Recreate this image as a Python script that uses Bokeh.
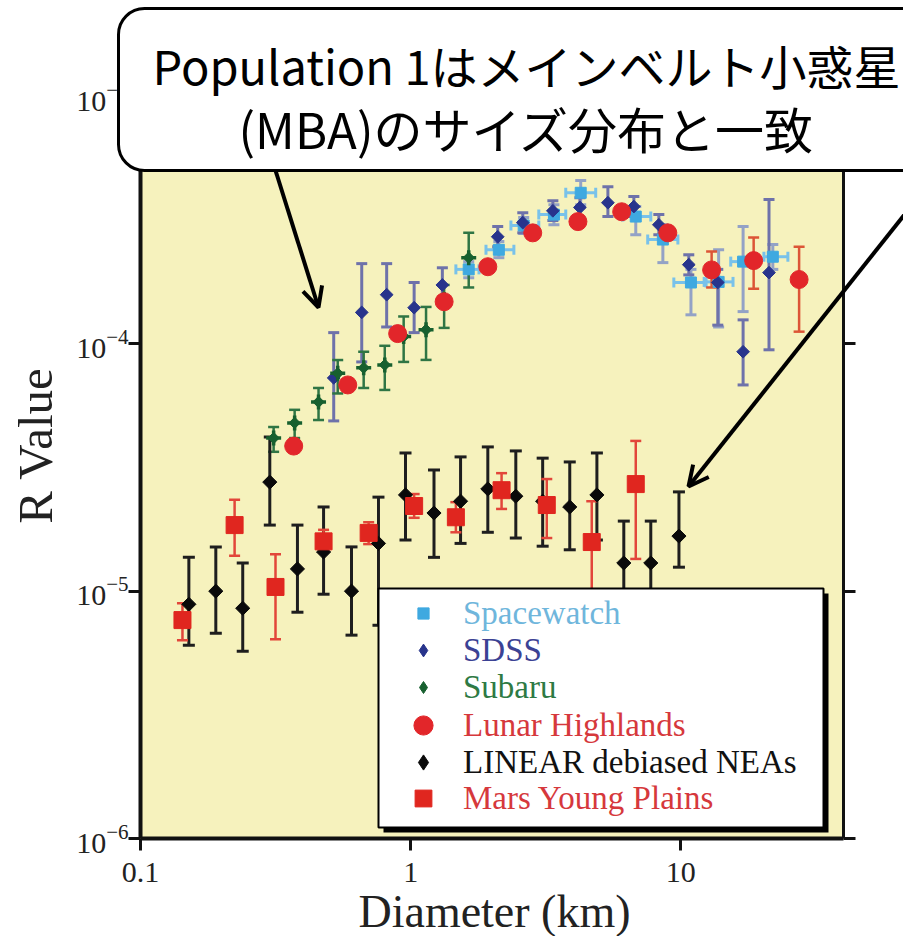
import math
import numpy as np
from bokeh.plotting import figure
from bokeh.models import (ColumnDataSource, Whisker, TeeHead, Legend, LegendItem,
                          BoxAnnotation, Label, Arrow, OpenHead, LogAxis)
from bokeh.embed import file_html
from bokeh.resources import INLINE

# ---------------- data: R values vs diameter (km) ----------------
spacewatch_d = [1.64, 2.12, 2.62, 3.39, 4.26, 6.81, 8.58, 10.9, 13.8, 17.0, 21.9]
spacewatch_d_lo = [1.47, 1.90, 2.35, 2.98, 3.75, 6.10, 7.54, 9.42, 12.2, 15.3, 20.3]
spacewatch_d_hi = [1.79, 2.41, 2.98, 3.75, 4.84, 7.74, 9.75, 12.4, 15.6, 18.5, 24.9]
spacewatch_r = [2.00e-4, 2.40e-4, 3.01e-4, 3.33e-4, 4.08e-4, 3.27e-4, 2.64e-4, 1.77e-4, 1.78e-4, 2.15e-4, 2.25e-4]
spacewatch_r_hi = [2.15e-4, 2.59e-4, 3.24e-4, 3.65e-4, 4.57e-4, 3.59e-4, 3.03e-4, 2.00e-4, 2.40e-4, 2.98e-4, 2.52e-4]
spacewatch_r_lo = [1.85e-4, 2.23e-4, 2.79e-4, 3.03e-4, 3.65e-4, 2.76e-4, 2.13e-4, 1.31e-4, 1.17e-4, 1.35e-4, 2.00e-4]

sdss_d = [0.519, 0.659, 0.815, 1.03, 1.31, 2.10, 2.60, 3.36, 4.23, 5.37, 6.70, 8.29, 10.7, 13.7, 17.0, 21.2]
sdss_r = [7.28e-5, 1.34e-4, 1.58e-4, 1.40e-4, 1.73e-4, 2.71e-4, 3.09e-4, 3.45e-4, 3.56e-4, 3.72e-4, 3.59e-4, 3.03e-4, 2.09e-4, 1.77e-4, 9.29e-5, 1.94e-4]
sdss_hi = [1.11e-4, 2.11e-4, 2.11e-4, 1.77e-4, 2.03e-4, 2.98e-4, 3.39e-4, 3.79e-4, 3.90e-4, 4.32e-4, 3.94e-4, 3.33e-4, 2.29e-4, 2.00e-4, 1.25e-4, 3.83e-4]
sdss_lo = [4.88e-5, 8.45e-5, 1.17e-4, 1.11e-4, 1.51e-4, 2.47e-4, 2.81e-4, 3.15e-4, 3.24e-4, 3.27e-4, 3.27e-4, 2.76e-4, 1.90e-4, 1.19e-4, 6.82e-5, 9.46e-5]

subaru_d = [0.311, 0.372, 0.456, 0.537, 0.670, 0.802, 0.942, 1.14, 1.33, 1.64]
subaru_r = [4.16e-5, 4.79e-5, 5.82e-5, 7.6e-5, 8.0e-5, 8.22e-5, 1.07e-4, 1.14e-4, 1.51e-4, 2.23e-4]
subaru_hi = [4.61e-5, 5.41e-5, 6.63e-5, 8.6e-5, 9.29e-5, 9.82e-5, 1.29e-4, 1.41e-4, 1.73e-4, 2.81e-4]
subaru_lo = [3.66e-5, 4.16e-5, 4.92e-5, 6.3e-5, 6.63e-5, 6.51e-5, 8.45e-5, 8.61e-5, 1.16e-4, 1.69e-4]

lunar_d = [0.369, 0.585, 0.895, 1.33, 1.93, 2.83, 4.16, 6.04, 8.95, 13.0, 18.6, 27.4]
lunar_r = [3.86e-5, 6.82e-5, 1.10e-4, 1.48e-4, 2.05e-4, 2.81e-4, 3.12e-4, 3.42e-4, 2.81e-4, 1.99e-4, 2.17e-4, 1.82e-4]
lunar_hi = [4.1e-5, 7.2e-5, 1.16e-4, 1.56e-4, 2.16e-4, 2.96e-4, 3.3e-4, 3.6e-4, 2.96e-4, 2.36e-4, 2.69e-4, 2.47e-4]
lunar_lo = [3.65e-5, 6.45e-5, 1.04e-4, 1.40e-4, 1.94e-4, 2.66e-4, 2.95e-4, 3.24e-4, 2.66e-4, 1.69e-4, 1.67e-4, 1.12e-4]

linear_d = [0.151, 0.190, 0.239, 0.301, 0.381, 0.476, 0.604, 0.760, 0.957, 1.22, 1.53, 1.93, 2.45, 3.08, 3.88, 4.89, 6.15, 7.74, 9.84]
linear_r = [8.85e-6, 1.0e-5, 8.53e-6, 2.76e-5, 1.23e-5, 1.44e-5, 1.0e-5, 1.56e-5, 2.45e-5, 2.07e-5, 2.31e-5, 2.59e-5, 2.42e-5, 2.31e-5, 2.19e-5, 2.45e-5, 1.30e-5, 1.30e-5, 1.67e-5]
linear_hi = [1.37e-5, 1.51e-5, 1.30e-5, 4.20e-5, 1.85e-5, 2.19e-5, 1.51e-5, 2.40e-5, 3.62e-5, 3.09e-5, 3.49e-5, 3.83e-5, 3.69e-5, 3.45e-5, 3.33e-5, 3.62e-5, 1.92e-5, 1.92e-5, 2.52e-5]
linear_lo = [6.04e-6, 6.76e-6, 5.71e-6, 1.85e-5, 8.22e-6, 9.72e-6, 6.64e-6, 7.28e-6, 1.61e-5, 1.37e-5, 1.56e-5, 1.73e-5, 1.64e-5, 1.52e-5, 1.47e-5, 1.61e-5, 8.77e-6, 8.77e-6, 1.25e-5]

mars_d = [0.143, 0.223, 0.316, 0.476, 0.699, 1.03, 1.47, 2.17, 3.19, 4.68, 6.81]
mars_r = [7.64e-6, 1.85e-5, 1.04e-5, 1.59e-5, 1.72e-5, 2.21e-5, 1.99e-5, 2.56e-5, 2.23e-5, 1.58e-5, 2.71e-5]
mars_hi = [8.94e-6, 2.34e-5, 1.41e-5, 1.77e-5, 1.90e-5, 2.47e-5, 2.29e-5, 3.00e-5, 2.84e-5, 2.31e-5, 4.05e-5]
mars_lo = [6.33e-6, 1.39e-5, 6.39e-6, 1.44e-5, 1.55e-5, 1.98e-5, 1.73e-5, 2.15e-5, 1.64e-5, 9.0e-6, 1.35e-5]

x_ticks = [0.1, 1, 10]
x_tick_labels = ["0.1", "1", "10"]
y_ticks = [1e-6, 1e-5, 1e-4, 1e-3]
X_MIN, X_MAX = 0.1, 40.0
Y_MIN, Y_MAX = 1e-6, 1e-3

# ---------------- layout (canvas pixels) ----------------
W, H = 903, 936
FL, FR, FT, FB = 140, 843, 96, 838      # edges of the axes box
SERIF = "Liberation Serif"

# the plotting frame spans the whole canvas; the axes box sits inside it
kx = (math.log10(X_MAX) - math.log10(X_MIN)) / (FR - FL)
ky = (math.log10(Y_MAX) - math.log10(Y_MIN)) / (FB - FT)
x_range = (10 ** (math.log10(X_MIN) - FL * kx), 10 ** (math.log10(X_MAX) + (W - FR) * kx))
y_range = (10 ** (math.log10(Y_MIN) - (H - FB) * ky), 10 ** (math.log10(Y_MAX) + FT * ky))

p = figure(width=W, height=H, x_axis_type="log", y_axis_type="log",
           x_range=x_range, y_range=y_range,
           output_backend="svg", toolbar_location=None,
           min_border_left=0, min_border_right=0, min_border_top=0, min_border_bottom=0)
p.background_fill_color = "white"
p.border_fill_color = "white"
p.outline_line_color = None
p.grid.visible = False

# yellow axes box
p.add_layout(BoxAnnotation(left=X_MIN, right=X_MAX, bottom=Y_MIN, top=Y_MAX, level="image",
                           fill_color="#f6f2bd", fill_alpha=1, line_alpha=0))

xa = p.below[0]
ya = p.left[0]
xa.ticker = x_ticks
xa.major_label_overrides = dict(zip(x_ticks, x_tick_labels))
xa.fixed_location = Y_MIN
xa.bounds = (X_MIN, X_MAX)
ya.ticker = y_ticks
ya.fixed_location = X_MIN
ya.bounds = (Y_MIN, Y_MAX)
for ax in (xa, ya):
    ax.axis_line_width = 4
    ax.axis_line_color = "#111111"
    ax.major_tick_out = 12
    ax.major_tick_in = 0
    ax.major_tick_line_width = 3
    ax.major_tick_line_color = "#111111"
    ax.minor_tick_line_color = None
    ax.major_label_text_font = SERIF
    ax.major_label_text_color = "#222222"
xa.major_label_text_font_size = "30px"
xa.major_label_standoff = 12
ya.major_label_text_font_size = "30px"
ya.major_label_standoff = 0

# mirrored axes on the right and top: line and ticks only
for place, ticks, loc, bnds in (("right", y_ticks, X_MAX, (Y_MIN, Y_MAX)),
                                ("above", x_ticks, Y_MAX, (X_MIN, X_MAX))):
    ax = LogAxis(ticker=ticks, fixed_location=loc, bounds=bnds,
                 axis_line_width=3, axis_line_color="#111111",
                 major_tick_out=12, major_tick_in=0, major_tick_line_width=3,
                 major_tick_line_color="#111111", minor_tick_line_color=None,
                 major_label_text_font_size="2px", major_label_text_alpha=0,
                 major_label_standoff=0)
    p.add_layout(ax, place)

# axis titles
p.add_layout(Label(x=494, y=911, x_units="canvas", y_units="canvas", text="Diameter (km)",
                   text_align="center", text_baseline="middle",
                   text_font=SERIF, text_font_size="46px", text_color="#222222"))
p.add_layout(Label(x=35, y=445, x_units="canvas", y_units="canvas", text="R Value",
                   angle=math.pi / 2, text_align="center", text_baseline="middle",
                   text_font=SERIF, text_font_size="49px", text_color="#222222"))


def vbars(src, color, width, cap):
    p.add_layout(Whisker(source=src, base="d", lower="lo", upper="hi", dimension="height",
                         line_color=color, line_width=width, level="underlay",
                         upper_head=TeeHead(size=cap, line_color=color, line_width=width),
                         lower_head=TeeHead(size=cap, line_color=color, line_width=width)))


# Spacewatch
SW_C = "#3fa9e0"
src_sw = ColumnDataSource(dict(d=spacewatch_d, r=spacewatch_r, lo=spacewatch_r_lo, hi=spacewatch_r_hi,
                               dlo=spacewatch_d_lo, dhi=spacewatch_d_hi))
vbars(src_sw, "#93a2c6", 3, 11)
p.add_layout(Whisker(source=src_sw, base="r", lower="dlo", upper="dhi", dimension="width",
                     line_color="#79c2ea", line_width=3, level="underlay",
                     upper_head=TeeHead(size=10, line_color="#79c2ea", line_width=3),
                     lower_head=TeeHead(size=10, line_color="#79c2ea", line_width=3)))
r_sw = p.scatter("d", "r", source=src_sw, marker="square", size=11, fill_color=SW_C, line_color=SW_C)

# SDSS
SD_C = "#28348c"
src_sd = ColumnDataSource(dict(d=sdss_d, r=sdss_r, lo=sdss_lo, hi=sdss_hi))
vbars(src_sd, "#6e72aa", 3, 11)
p.scatter("d", "r", source=src_sd, marker="square", angle=np.pi / 4, size=9,
          fill_color=SD_C, line_color=SD_C)
k_sd = p.scatter("d", "r", source=src_sd, marker="diamond", fill_color=SD_C, line_color=SD_C, visible=False)

# Subaru
SU_C = "#17602f"
src_su = ColumnDataSource(dict(d=subaru_d, r=subaru_r, lo=subaru_lo, hi=subaru_hi))
vbars(src_su, "#2f7544", 2.5, 11)
p.scatter("d", "r", source=src_su, marker="cross", size=15, line_width=3.5, line_color=SU_C)
p.scatter("d", "r", source=src_su, marker="square", angle=np.pi / 4, size=8,
          fill_color=SU_C, line_color=SU_C)
k_su = p.scatter("d", "r", source=src_su, marker="diamond", fill_color=SU_C, line_color=SU_C, visible=False)

# LINEAR debiased NEAs
LI_C = "#0a0a0a"
src_li = ColumnDataSource(dict(d=linear_d, r=linear_r, lo=linear_lo, hi=linear_hi))
vbars(src_li, "#1e1e1e", 3, 12)
p.scatter("d", "r", source=src_li, marker="square", angle=np.pi / 4, size=10,
          fill_color=LI_C, line_color=LI_C)
k_li = p.scatter("d", "r", source=src_li, marker="diamond", fill_color=LI_C, line_color=LI_C, visible=False)

# Mars Young Plains
MA_C = "#e0261f"
src_ma = ColumnDataSource(dict(d=mars_d, r=mars_r, lo=mars_lo, hi=mars_hi))
vbars(src_ma, "#e2463a", 2.5, 11)
r_ma = p.scatter("d", "r", source=src_ma, marker="square", size=17, fill_color=MA_C, line_color=MA_C)

# Lunar Highlands
LU_C = "#e2262a"
src_lu = ColumnDataSource(dict(d=lunar_d, r=lunar_r, lo=lunar_lo, hi=lunar_hi))
vbars(src_lu, "#dc5536", 2.5, 11)
r_lu = p.scatter("d", "r", source=src_lu, marker="circle", size=18, fill_color=LU_C, line_color=LU_C)

# ---------------- key box ----------------
p.add_layout(BoxAnnotation(left=383, right=828, top=593, bottom=832,
                           left_units="canvas", right_units="canvas",
                           top_units="canvas", bottom_units="canvas",
                           fill_color="black", fill_alpha=1, line_alpha=0))
p.add_layout(BoxAnnotation(left=378, right=823, top=588, bottom=827,
                           left_units="canvas", right_units="canvas",
                           top_units="canvas", bottom_units="canvas",
                           fill_color="white", fill_alpha=1,
                           line_color="black", line_alpha=1, line_width=2))

KEY_GLYPH_X, KEY_TEXT_X, KEY_ROW_H = 423, 463, 50


def add_key(label, renderer, color, row_y, marker_px):
    g = min(int(round(marker_px / 0.4)), KEY_ROW_H)
    leg = Legend(items=[LegendItem(label=label, renderers=[renderer])],
                 location=(KEY_GLYPH_X - g / 2, H - (row_y + KEY_ROW_H / 2)),
                 glyph_width=g, glyph_height=KEY_ROW_H, label_height=KEY_ROW_H,
                 label_standoff=int(round(KEY_TEXT_X - KEY_GLYPH_X - g / 2)),
                 padding=0, margin=0, spacing=0,
                 background_fill_alpha=0, border_line_alpha=0, inactive_fill_alpha=0,
                 label_text_font=SERIF, label_text_font_size="33px",
                 label_text_color=color)
    p.add_layout(leg)


add_key("Spacewatch", r_sw, "#6fb6dc", 613, 11)
add_key("SDSS", k_sd, "#3b4294", 650, 13)
add_key("Subaru", k_su, "#2e7a44", 687, 12)
add_key("Lunar Highlands", r_lu, "#d6383c", 725, 19)
add_key("LINEAR debiased NEAs", k_li, "#111111", 762, 15)
add_key("Mars Young Plains", r_ma, "#d6383c", 798, 17)

# ---------------- callout ----------------
p.add_layout(BoxAnnotation(left=118, right=950, top=8, bottom=170,
                           left_units="canvas", right_units="canvas",
                           top_units="canvas", bottom_units="canvas",
                           fill_color="white", fill_alpha=1,
                           line_color="black", line_alpha=1, line_width=3,
                           border_radius=26))
for txt, ty, fs in (("Population 1はメインベルト小惑星", 64, "47px"),
                    ("(MBA)のサイズ分布と一致", 127, "49px")):
    p.add_layout(Label(x=526, y=ty, x_units="canvas", y_units="canvas", text=txt,
                       text_align="center", text_baseline="middle",
                       text_font="Noto Sans CJK JP", text_font_size=fs, text_color="black"))

for xs, ys, xe, ye in ((275, 170, 318, 307), (939, 170, 688, 486)):
    p.add_layout(Arrow(x_start=xs, y_start=ys, x_end=xe, y_end=ye,
                       start_units="canvas", end_units="canvas",
                       line_width=4, line_color="black",
                       end=OpenHead(size=20, line_width=4, line_color="black")))

open("out.html", "w").write(file_html(p, INLINE))
